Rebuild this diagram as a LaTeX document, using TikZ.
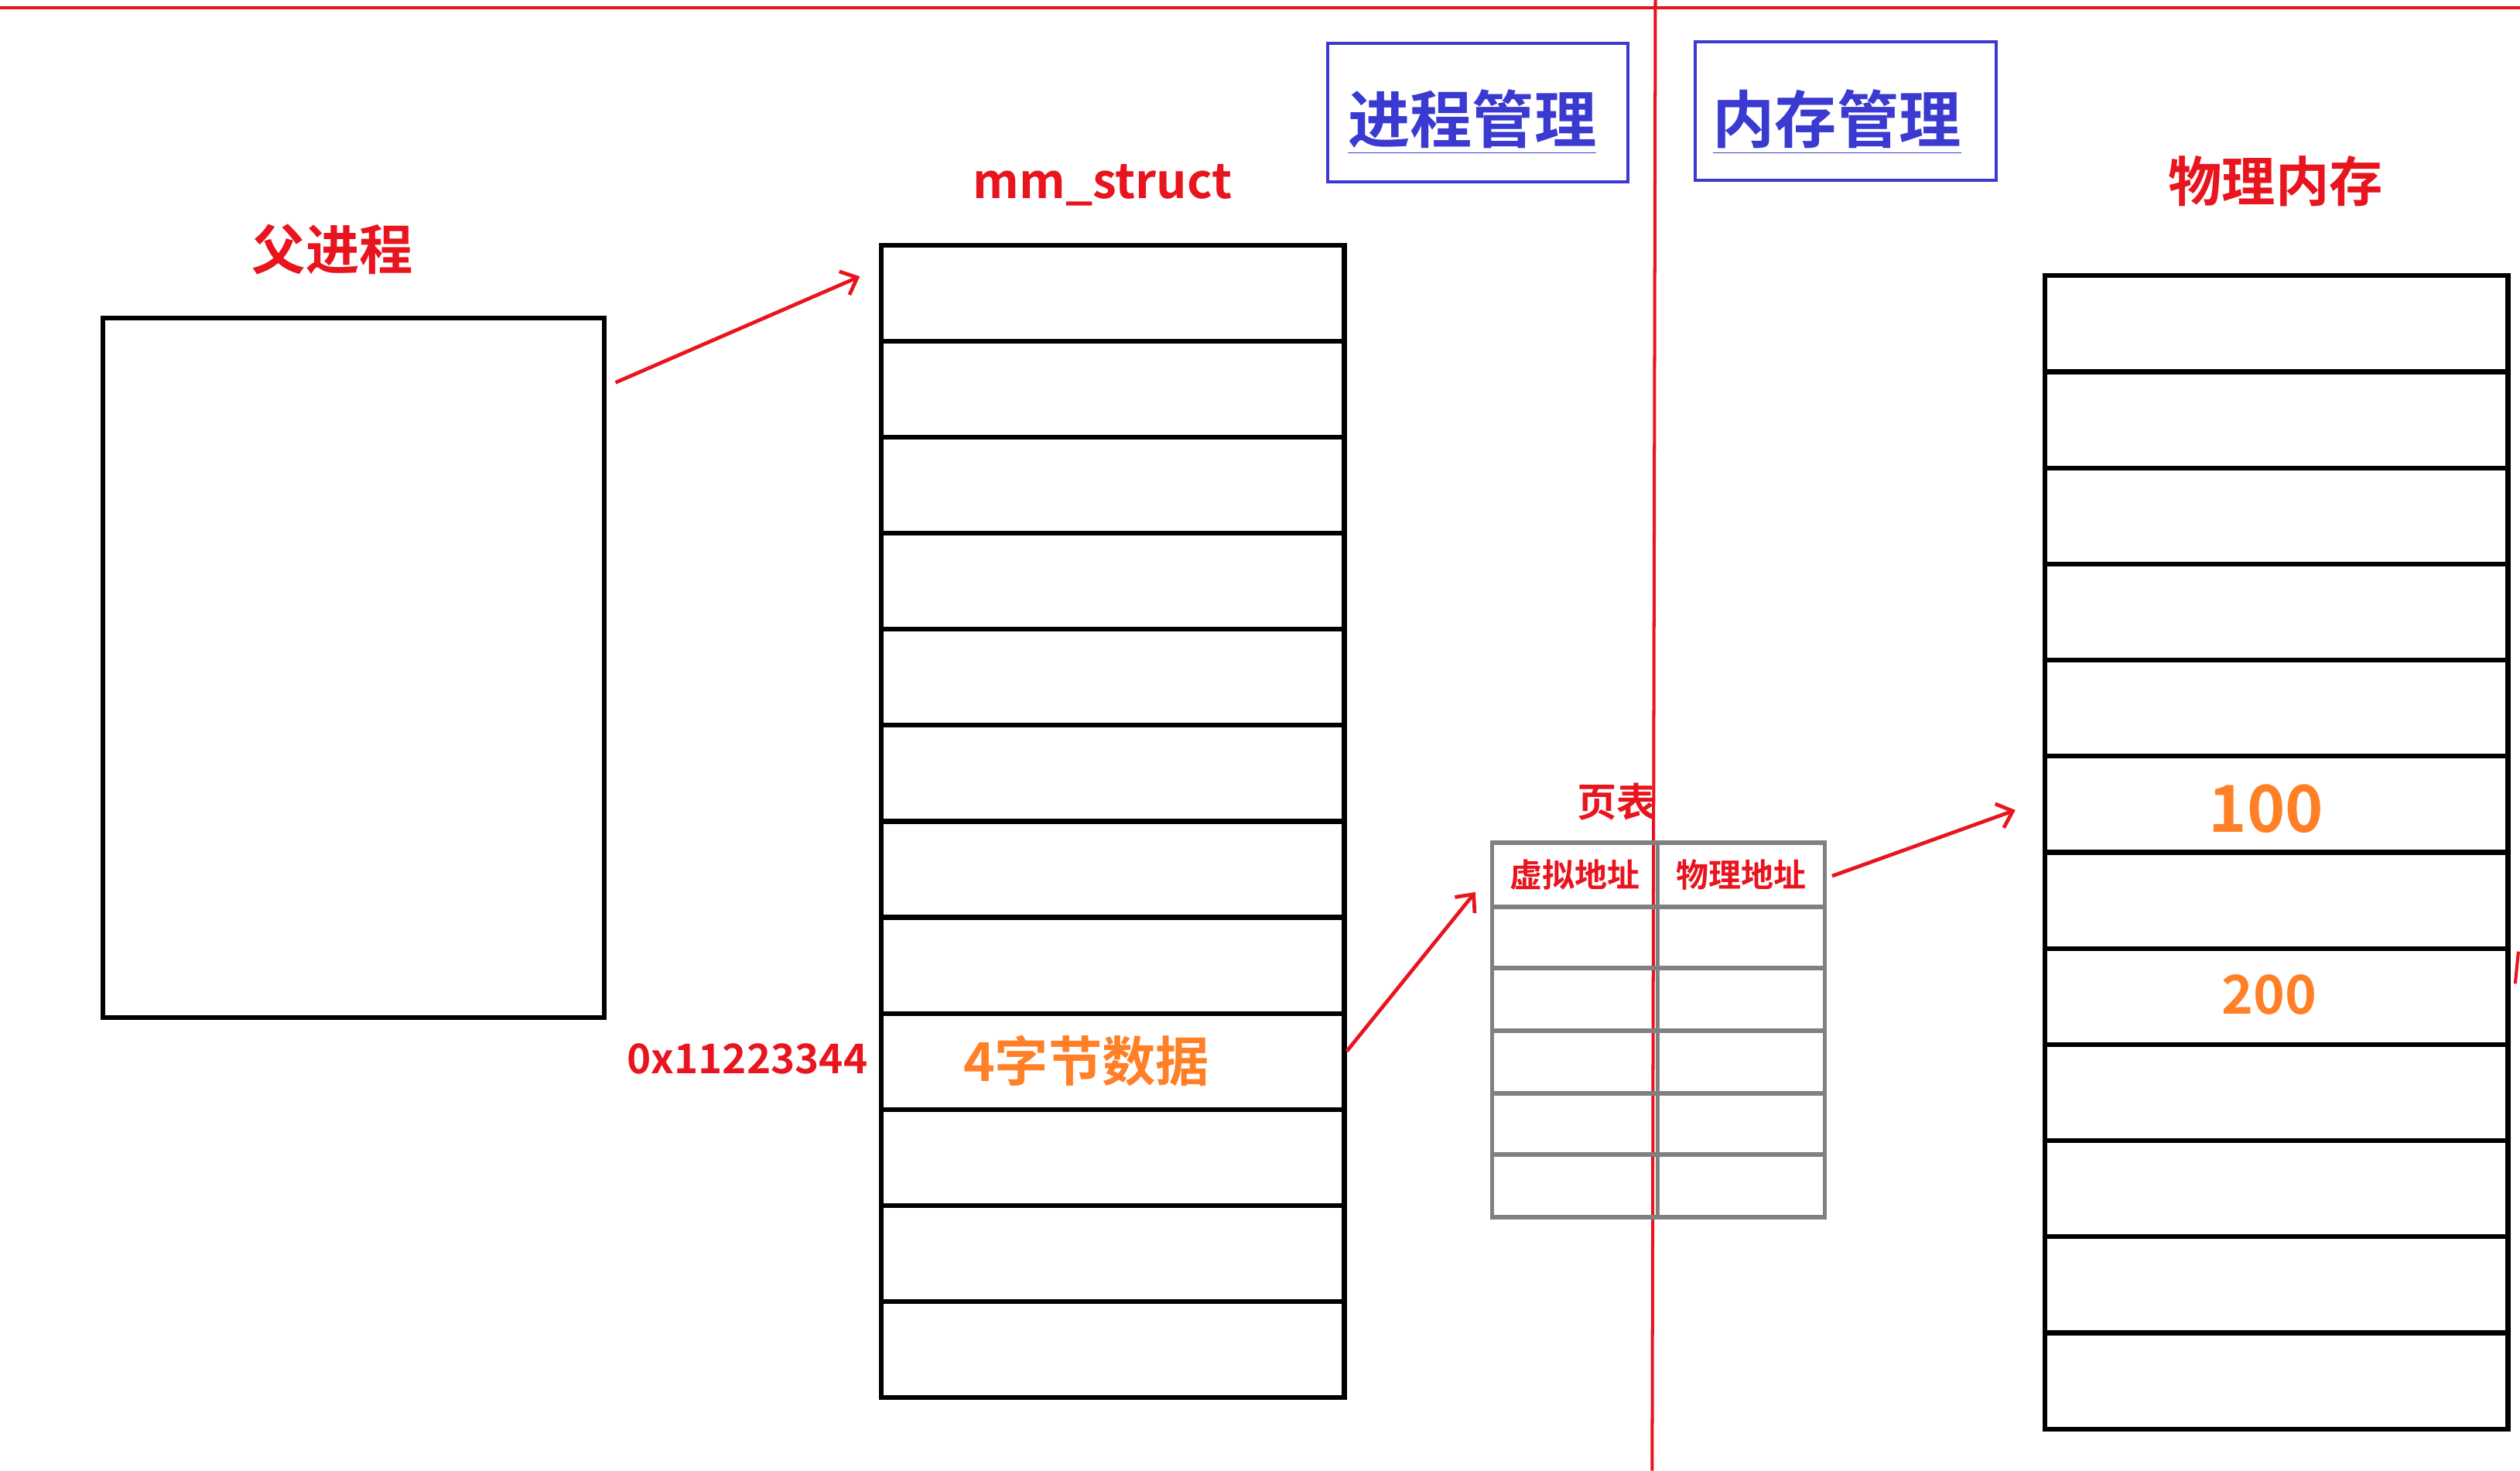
\documentclass[tikz,border=0pt]{standalone}
\usepackage{fontspec}
\usetikzlibrary{arrows.meta}
\setmainfont{Noto Sans CJK SC}[BoldFont={Noto Sans CJK SC Bold}]
\definecolor{rd}{HTML}{E8141E}
\definecolor{og}{HTML}{FF8026}
\definecolor{bl}{HTML}{3A3AD0}
\definecolor{gr}{HTML}{808080}
\begin{document}
\begin{tikzpicture}[x=0.02cm,y=-0.02cm,
  blk/.style={draw=black,line width=1.7pt},
  gry/.style={draw=gr,line width=1.6pt},
  rl/.style={draw=rd,line width=1.1pt},
  arr/.style={rl,line width=1.3pt,-{Straight Barb[length=5pt,width=9pt]}},
  lab/.style={font=\bfseries,text=rd,inner sep=0pt}]
\useasboundingbox (0,0) rectangle (1568,915);
\fill[white] (0,0) rectangle (1568,915);
\draw[rl] (0,5) -- (1568,5);
\draw[rl] (1030,0) -- (1028,915);
\node[draw=bl,line width=1.1pt,minimum width=187*0.02cm,minimum height=86*0.02cm,inner sep=0pt] (pm) at (919.5,70) {};
\node[font=\bfseries\fontsize{22}{24}\selectfont,text=bl,inner sep=0pt] at (916,76) {\underline{进程管理}};
\node[draw=bl,line width=1.1pt,minimum width=187*0.02cm,minimum height=86*0.02cm,inner sep=0pt] (mm) at (1148.5,69) {};
\node[font=\bfseries\fontsize{22}{24}\selectfont,text=bl,inner sep=0pt] at (1143,76) {\underline{内存管理}};
\node[lab,font=\bfseries\fontsize{19}{20}\selectfont] (fp) at (207,155) {父进程};
\node[blk,minimum width=312*0.02cm,minimum height=435*0.02cm,inner sep=0pt] (parent) at (220,415.5) {};
\node[lab,font=\bfseries\fontsize{17}{18}\selectfont] (mst) at (686,115) {mm\_struct};
\foreach \i in {0,...,11}{
  \pgfmathsetmacro{\ya}{151+\i*59.75}
  \node[blk,minimum width=288*0.02cm,minimum height=59.75*0.02cm,inner sep=0pt,anchor=north west] (m\i) at (547,\ya) {};
}
\node[lab,font=\bfseries\fontsize{14.5}{16}\selectfont] (addr) at (465,659) {0x11223344};
\node[font=\bfseries\fontsize{19}{20}\selectfont,text=og,inner sep=0pt] at (676,660) {4字节数据};
\coordinate (a1s) at (383,238); \coordinate (a1e) at (535,172);
\draw[arr] (a1s) -- (a1e);
\coordinate (a2s) at (838,654); \coordinate (a2e) at (918,555);
\draw[arr] (a2s) -- (a2e);
\coordinate (a3s) at (1140,545); \coordinate (a3e) at (1254,504);
\draw[arr] (a3s) -- (a3e);
\node[lab,font=\bfseries\fontsize{14}{15}\selectfont] (pt) at (1006,499) {页表};
\foreach \r/\ya/\yb in {0/523/563,1/563/601,2/601/640,3/640/679,4/679/717,5/717/756}{
  \node[gry,minimum width=103*0.02cm,minimum height={(\yb-\ya)*0.02cm},inner sep=0pt,anchor=north west] (pl\r) at (927,\ya) {};
  \node[gry,minimum width=104*0.02cm,minimum height={(\yb-\ya)*0.02cm},inner sep=0pt,anchor=north west] (pr\r) at (1030,\ya) {};
}
\node[lab,font=\bfseries\fontsize{11.5}{12}\selectfont] at (pl0) {虚拟地址};
\node[lab,font=\bfseries\fontsize{11.5}{12}\selectfont] at (pr0) {物理地址};
\node[lab,font=\bfseries\fontsize{19}{20}\selectfont] (wl) at (1416,113) {物理内存};
\foreach \i in {0,...,11}{
  \pgfmathsetmacro{\ya}{170+\i*59.8}
  \node[blk,minimum width=288*0.02cm,minimum height=59.8*0.02cm,inner sep=0pt,anchor=north west] (p\i) at (1271,\ya) {};
}
\node[font=\bfseries\fontsize{23}{24}\selectfont,text=og,inner sep=0pt] at (1410,503) {100};
\node[font=\bfseries\fontsize{19}{20}\selectfont,text=og,inner sep=0pt] at (1412,619) {200};
\draw[rl] (1567,592) -- (1565,612);
\end{tikzpicture}
\end{document}
